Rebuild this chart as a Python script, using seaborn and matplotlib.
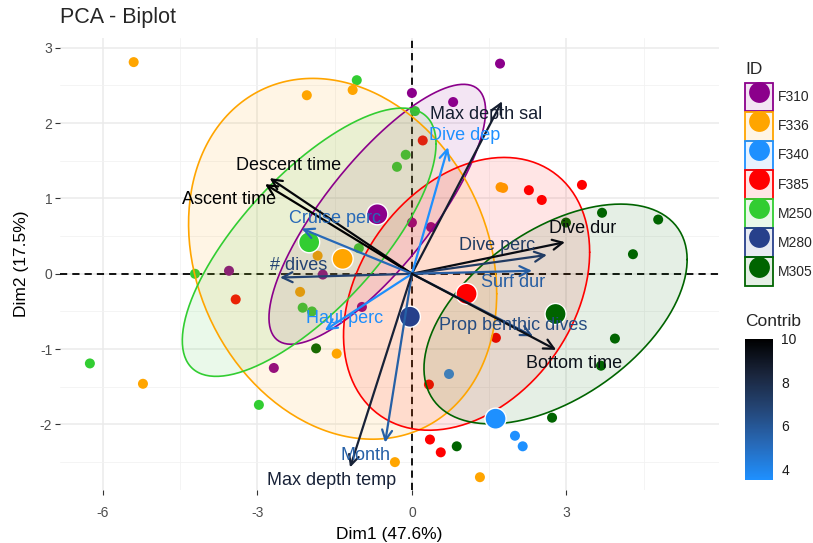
import numpy as np
import pandas as pd
import matplotlib
matplotlib.use("Agg")
import matplotlib.pyplot as plt
import seaborn as sns
from matplotlib.patches import Patch
from matplotlib.lines import Line2D
from matplotlib.colors import LinearSegmentedColormap, Normalize, to_rgba
from matplotlib.cm import ScalarMappable
from matplotlib.legend_handler import HandlerTuple

# ---- individuals: PCA scores on Dim1 / Dim2, by animal ID ----
groups = ["F310", "F336", "F340", "F385", "M250", "M280", "M305"]
group_colors = ["#8B008B", "#FFA500", "#1E90FF", "#FF0000", "#32CD32", "#27408B", "#006400"]

f310_dim1 = [1.71, 0.00, 0.80, -3.55, -2.68, 0.00, 0.37, -0.97, -1.73]
f310_dim2 = [2.79, 2.40, 2.28, 0.04, -1.25, 0.68, 0.62, -0.44, -0.01]
f336_dim1 = [-5.40, -2.04, -1.15, -1.83, -2.17, -1.46, -5.22, -0.33, 1.32, 1.77, 1.72]
f336_dim2 = [2.81, 2.37, 2.44, 0.24, -0.24, -1.06, -1.46, -2.50, -2.70, 1.14, 1.15]
f340_dim1 = [2.00, 2.15, 0.72]
f340_dim2 = [-2.15, -2.29, -1.33]
f385_dim1 = [-3.42, 0.21, 2.27, 2.52, 3.30, 1.63, 0.33, 0.35, 0.56, 2.86]
f385_dim2 = [-0.34, 1.77, 1.11, 0.98, 1.18, -0.85, -1.47, -2.20, -2.37, -0.47]
m250_dim1 = [-1.07, -6.25, -2.97, -4.21, 0.06, -0.12, -0.29, -1.03, -2.12, -1.94]
m250_dim2 = [2.57, -1.19, -1.74, 0.00, 2.16, 1.58, 1.42, 0.34, -0.45, -0.50]
m280_dim1 = [-0.04]
m280_dim2 = [-0.57]
m305_dim1 = [3.69, 4.78, 4.29, 2.99, 3.94, 3.67, 2.72, 0.87, -1.86]
m305_dim2 = [0.81, 0.72, 0.26, 0.68, -0.86, -1.22, -1.91, -2.29, -0.99]

# ---- variables: coordinates on Dim1 / Dim2 and contribution (%) ----
var_names = ["Max depth sal", "Dive dep", "Descent time", "Ascent time", "Cruise perc",
             "# dives", "Haul perc", "Month", "Max depth temp", "Dive dur",
             "Dive perc", "Surf dur", "Prop benthic dives", "Bottom time"]
var_dim1 = [1.75, 0.70, -2.76, -2.85, -2.14, -2.56, -1.69, -0.52, -1.20, 2.97, 2.62, 2.33, 2.35, 2.80]
var_dim2 = [2.29, 1.68, 1.27, 1.19, 0.60, -0.05, -0.75, -2.24, -2.57, 0.42, 0.25, 0.04, -0.83, -1.01]
var_contrib = [8.7, 3.5, 9.7, 10.0, 5.2, 6.9, 3.6, 5.6, 8.5, 9.5, 7.3, 5.7, 6.5, 9.3]

# label placement relative to each arrow tip (repelled text)
label_offsets = [(-0.31, -0.17), (0.33, 0.15), (0.37, 0.17), (-0.70, -0.20), (0.64, 0.14),
                 (0.36, 0.16), (0.39, 0.15), (-0.39, -0.17), (-0.35, -0.18), (0.35, 0.18),
                 (-0.96, 0.13), (-0.36, -0.16), (-0.38, 0.15), (0.35, -0.18)]

group_dim1 = [f310_dim1, f336_dim1, f340_dim1, f385_dim1, m250_dim1, m280_dim1, m305_dim1]
group_dim2 = [f310_dim2, f336_dim2, f340_dim2, f385_dim2, m250_dim2, m280_dim2, m305_dim2]
ind = pd.concat([pd.DataFrame({"ID": g, "Dim1": d1, "Dim2": d2})
                 for g, d1, d2 in zip(groups, group_dim1, group_dim2)], ignore_index=True)
centroids = ind.groupby("ID", sort=False)[["Dim1", "Dim2"]].mean().reset_index()
palette = dict(zip(groups, group_colors))
variables = pd.DataFrame({"name": var_names, "Dim1": var_dim1, "Dim2": var_dim2,
                          "contrib": var_contrib})

sns.set_theme(style="white")
plt.rcParams["font.family"] = ["Liberation Sans", "DejaVu Sans"]
plt.rcParams["axes.unicode_minus"] = False

W, H = 813, 543
fig = plt.figure(figsize=(W / 100, H / 100), dpi=100)
ax = fig.add_axes([60 / W, 53 / H, 659 / W, 452 / H])
ax.set_xlim(-6.83, 5.96)
ax.set_ylim(-2.87, 3.13)

# grid (major + minor), no frame
ax.set_xticks([-6, -3, 0, 3])
ax.set_xticks([-4.5, -1.5, 1.5, 4.5], minor=True)
ax.set_yticks([-2, -1, 0, 1, 2, 3])
ax.set_yticks([-2.5, -1.5, -0.5, 0.5, 1.5, 2.5], minor=True)
ax.grid(which="major", color="#EBEBEB", lw=1.1)
ax.grid(which="minor", color="#F2F2F2", lw=0.6)
ax.set_axisbelow(True)
for s in ax.spines.values():
    s.set_visible(False)
ax.tick_params(which="major", length=3.5, width=0.8, color="#333333", labelsize=10,
               labelcolor="#4D4D4D", pad=2, bottom=True, left=True)
ax.tick_params(axis="x", pad=8)
ax.tick_params(which="minor", length=0)

# reference lines through the origin
ax.axhline(0, color="black", lw=1.3, ls=(0, (4, 2.8)), zorder=1.5)
ax.axvline(0, color="black", lw=1.3, ls=(0, (4, 2.8)), zorder=1.5)

# individuals
sns.scatterplot(data=ind, x="Dim1", y="Dim2", hue="ID", hue_order=groups, palette=palette,
                s=52, linewidth=0, legend=False, ax=ax, zorder=2)


# concentration ellipses (normal, level 0.5) for groups with enough individuals
def ellipse_outline(x, y, level=0.5, n=240):
    x = np.asarray(x, float)
    y = np.asarray(y, float)
    dfd = len(x) - 1
    qf = (dfd / 2.0) * ((1 - level) ** (-2.0 / dfd) - 1)
    radius = np.sqrt(2 * qf)
    chol = np.linalg.cholesky(np.cov(x, y))
    t = np.linspace(0, 2 * np.pi, n)
    circle = np.column_stack([np.cos(t), np.sin(t)])
    return np.array([x.mean(), y.mean()]) + radius * circle @ chol.T


for g, c in zip(groups, group_colors):
    sub = ind[ind["ID"] == g]
    if len(sub) < 4:
        continue
    pts = ellipse_outline(sub["Dim1"], sub["Dim2"])
    ax.fill(pts[:, 0], pts[:, 1], color=c, alpha=0.1, lw=0, zorder=3)
    ax.plot(pts[:, 0], pts[:, 1], color=c, lw=1.2, zorder=3.1)

# group mean points
sns.scatterplot(data=centroids, x="Dim1", y="Dim2", hue="ID", hue_order=groups,
                palette=palette, s=230, edgecolor="white", linewidth=1.0,
                legend=False, ax=ax, zorder=4)

# variable arrows coloured by contribution
cmap = LinearSegmentedColormap.from_list(
    "contrib", ["#1E90FF", "#276AB9", "#244677", "#1A253C", "#000000"])
norm = Normalize(vmin=min(var_contrib), vmax=max(var_contrib))
for (_, v), (dx, dy) in zip(variables.iterrows(), label_offsets):
    col = cmap(norm(v["contrib"]))
    ax.annotate("", xy=(v["Dim1"], v["Dim2"]), xytext=(0, 0),
                arrowprops=dict(arrowstyle="->,head_length=0.6,head_width=0.3",
                                color=col, lw=1.6, shrinkA=0, shrinkB=0,
                                mutation_scale=12),
                zorder=5)
    ax.text(v["Dim1"] + dx, v["Dim2"] + dy, v["name"], color=col, fontsize=13,
            ha="center", va="center", zorder=6)

ax.set_xlabel("Dim1 (47.6%)", fontsize=12.5, color="black")
ax.set_ylabel("Dim2 (17.5%)", fontsize=12.5, color="black")
ax.xaxis.set_label_coords(0.5, -0.082)
ax.yaxis.set_label_coords(-0.047, 0.5)

fig.text(60 / W, 1 - 18 / H, "PCA - Biplot", fontsize=15.5, ha="left", va="center")

# ID legend: ellipse fill/border plus point
handles = [(Patch(facecolor=to_rgba(c, 0.1), edgecolor=c, linewidth=1.3),
            Line2D([], [], marker="o", ls="", markersize=15, markerfacecolor=c,
                   markeredgewidth=0))
           for c in group_colors]
leg = fig.legend(handles, groups, loc="upper left",
                 bbox_to_anchor=(745 / W, 1 - 83 / H), frameon=False, fontsize=10,
                 handlelength=2.05, handleheight=2.78,
                 labelspacing=0.04, handletextpad=0.35, borderpad=0, borderaxespad=0,
                 handler_map={tuple: HandlerTuple(ndivide=1)})
fig.text(745 / W, 1 - 70 / H, "ID", fontsize=12.5, ha="left", va="center")

# contribution colourbar
cax = fig.add_axes([745 / W, (H - 480) / H, 28 / W, 141 / H])
cb = fig.colorbar(ScalarMappable(norm=norm, cmap=cmap), cax=cax)
cb.outline.set_visible(False)
cb.set_ticks([4, 6, 8, 10])
cax.tick_params(direction="in", length=5, width=0.8, color="white", left=True, right=True,
                labelsize=10, labelcolor="#1A1A1A", pad=6)
fig.text(745 / W, 1 - 321 / H, "Contrib", fontsize=12.5, ha="left", va="center")

fig.savefig("out.png", dpi=100)
